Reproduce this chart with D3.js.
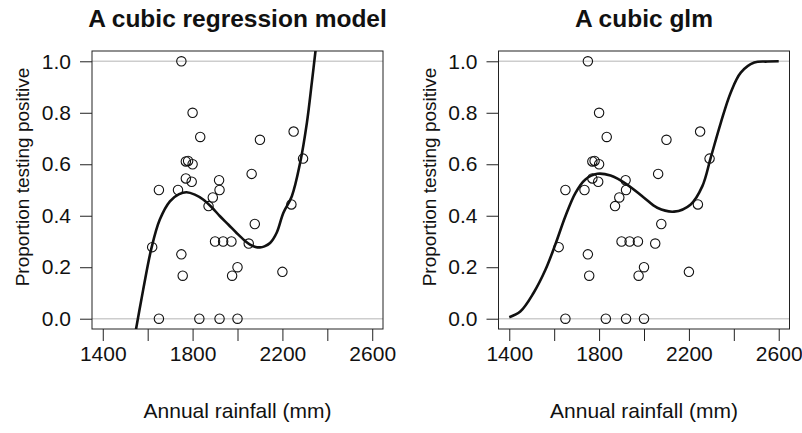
<!DOCTYPE html>
<html>
<head>
<meta charset="utf-8">
<script src="https://cdn.jsdelivr.net/npm/d3@7"></script>
<style>
  body { margin: 0; background: #fff; }
  text { font-family: "Liberation Sans", Arial, sans-serif; fill: #111; }
</style>
</head>
<body>
<script>
// toxoplasmosis data
var rainfall = [1735, 1936, 2000, 1973, 1750, 1800, 1750, 2077, 1920, 1800, 2050, 1830,
  1650, 2200, 2000, 1770, 1920, 1770, 2240, 1620, 1756, 1650, 2250, 1796, 1890, 1871,
  2063, 2100, 1918, 1834, 1780, 1900, 1976, 2292];
var proportion = [0.5, 0.3, 0.2, 0.3, 1.0, 0.6, 0.25, 0.368, 0.5, 0.8, 0.292, 0,
  0.5, 0.182, 0, 0.545, 0, 0.611, 0.444, 0.278, 0.167, 0, 0.727, 0.532, 0.471, 0.4375,
  0.5625, 0.695, 0.538, 0.706, 0.613, 0.3, 0.167, 0.622];

// fitted curves
var lmX = [1540, 1580, 1617, 1654, 1699, 1740, 1773, 1810, 1847, 1885, 1922, 1960, 1996,
  2030, 2056, 2080, 2100, 2120, 2145, 2175, 2204, 2242, 2279, 2309, 2331, 2350];
var lmY = [-0.08, 0.113, 0.275, 0.385, 0.456, 0.484, 0.491, 0.482, 0.463, 0.433, 0.398,
  0.365, 0.333, 0.305, 0.288, 0.279, 0.277, 0.281, 0.294, 0.335, 0.411, 0.476, 0.606,
  0.761, 0.917, 1.06];
var glmX = [1400, 1449, 1508, 1561, 1605, 1650, 1695, 1739, 1792, 1851, 1925, 2000,
  2059, 2134, 2208, 2260, 2297, 2342, 2386, 2431, 2491, 2550, 2600];
var glmY = [0.006, 0.028, 0.1, 0.19, 0.288, 0.398, 0.489, 0.541, 0.563, 0.556, 0.521,
  0.47, 0.431, 0.416, 0.444, 0.515, 0.625, 0.761, 0.878, 0.956, 0.995, 0.999, 1.0];

var xTicks = [1400, 1600, 1800, 2000, 2200, 2400, 2600];
var xLabels = [1400, 1800, 2200, 2600];
var yTicks = [0, 0.2, 0.4, 0.6, 0.8, 1.0];

var panels = [
  { title: "A cubic regression model", left: 92, cx: lmX, cy: lmY, id: "c1" },
  { title: "A cubic glm", left: 498.5, cx: glmX, cy: glmY, id: "c2" }
];

var W = 802, H = 433, pw = 291, plotTop = 51, plotBottom = 329;

var svg = d3.select("body").append("svg")
  .attr("width", W)
  .attr("height", H);

var y = d3.scaleLinear().domain([-0.04, 1.04]).range([plotBottom, plotTop]);

panels.forEach(function (p) {
  var x = d3.scaleLinear().domain([1352, 2648]).range([p.left, p.left + pw]);
  var g = svg.append("g");

  g.append("clipPath").attr("id", p.id)
    .append("rect")
    .attr("x", p.left).attr("y", plotTop)
    .attr("width", pw).attr("height", plotBottom - plotTop);

  // gray reference lines at 0 and 1
  g.selectAll(".ref")
    .data([0, 1])
    .enter().append("line")
    .attr("x1", p.left).attr("x2", p.left + pw)
    .attr("y1", function (d) { return y(d); })
    .attr("y2", function (d) { return y(d); })
    .attr("stroke", "#cdcdcd")
    .attr("stroke-width", 1.5);

  //x axis
  var xa = g.append("g")
    .attr("transform", "translate(0," + plotBottom + ")")
    .call(d3.axisBottom(x).tickValues(xTicks).tickSize(12).tickPadding(5)
      .tickFormat(function (d) { return xLabels.indexOf(d) >= 0 ? d : ""; }));
  xa.select(".domain").remove();
  xa.selectAll("line").attr("stroke", "#222");
  xa.selectAll("text").style("font-size", "21px").attr("fill", "#111");

  //y axis
  var ya = g.append("g")
    .attr("transform", "translate(" + p.left + ",0)")
    .call(d3.axisLeft(y).tickValues(yTicks).tickSize(12).tickPadding(9)
      .tickFormat(d3.format(".1f")));
  ya.select(".domain").remove();
  ya.selectAll("line").attr("stroke", "#222");
  ya.selectAll("text").style("font-size", "21px").attr("fill", "#111");

  //box
  g.append("rect")
    .attr("x", p.left).attr("y", plotTop)
    .attr("width", pw).attr("height", plotBottom - plotTop)
    .attr("fill", "none")
    .attr("stroke", "#222")
    .attr("stroke-width", 1);

  //points
  g.selectAll(".pt")
    .data(rainfall)
    .enter().append("circle")
    .attr("cx", function (d) { return x(d); })
    .attr("cy", function (d, i) { return y(proportion[i]); })
    .attr("r", 4.7)
    .attr("fill", "none")
    .attr("stroke", "#111")
    .attr("stroke-width", 1.1);

  //fitted curve
  var line = d3.line()
    .x(function (d) { return x(d); })
    .y(function (d, i) { return y(p.cy[i]); })
    .curve(d3.curveCatmullRom);
  g.append("path")
    .datum(p.cx)
    .attr("clip-path", "url(#" + p.id + ")")
    .attr("d", line)
    .attr("fill", "none")
    .attr("stroke", "#111")
    .attr("stroke-width", 2.6);

  //titles
  g.append("text")
    .attr("x", p.left + pw / 2)
    .attr("y", 27)
    .attr("text-anchor", "middle")
    .style("font-size", "24.5px")
    .style("font-weight", "bold")
    .text(p.title);

  g.append("text")
    .attr("x", p.left + pw / 2)
    .attr("y", 418)
    .attr("text-anchor", "middle")
    .style("font-size", "21px")
    .text("Annual rainfall (mm)");

  g.append("text")
    .attr("transform", "translate(" + (p.left - 63) + "," + 177 + ") rotate(-90)")
    .attr("text-anchor", "middle")
    .style("font-size", "19px")
    .text("Proportion testing positive");
});
</script>
</body>
</html>
